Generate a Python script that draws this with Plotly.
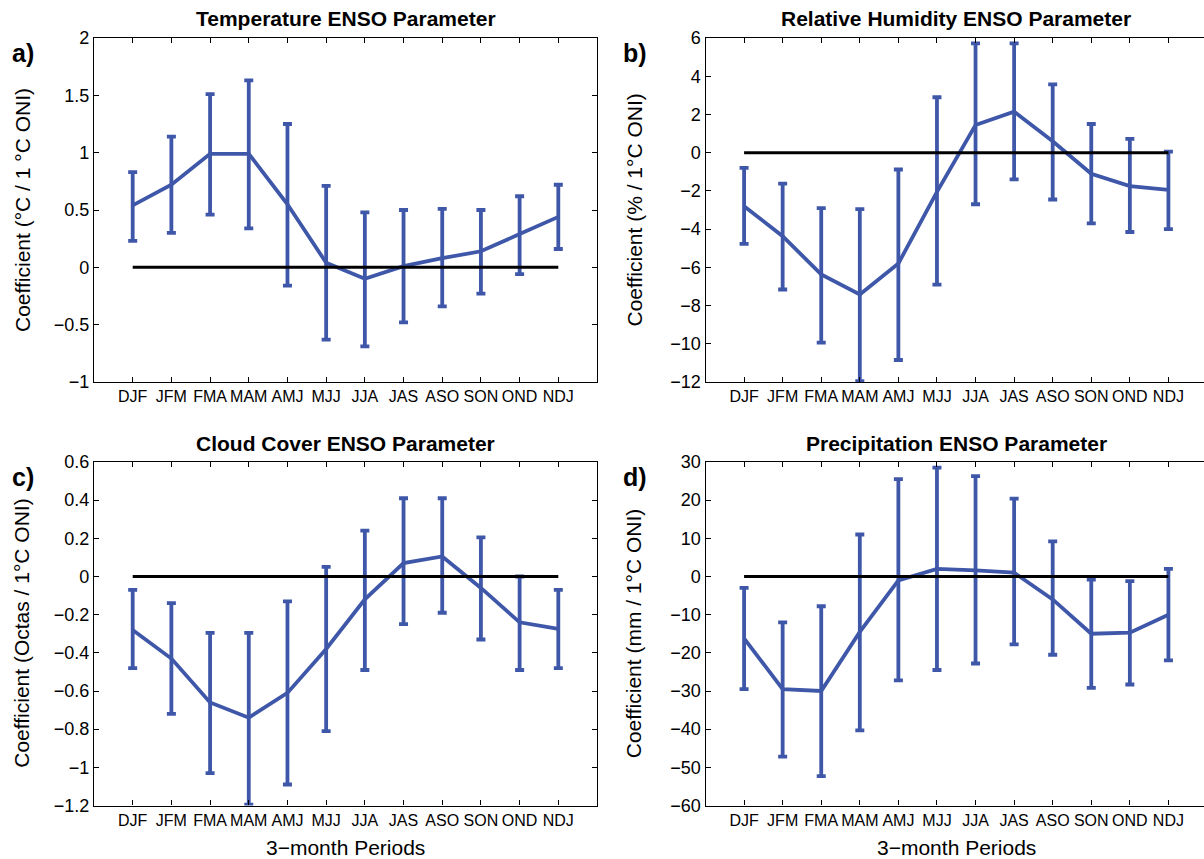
import plotly.graph_objects as go

periods = ["DJF", "JFM", "FMA", "MAM", "AMJ", "MJJ", "JJA", "JAS", "ASO", "SON", "OND", "NDJ"]

temp_mean = [0.54, 0.72, 0.99, 0.99, 0.55, 0.04, -0.10, 0.01, 0.08, 0.14, 0.29, 0.44]
temp_upper = [0.83, 1.14, 1.51, 1.63, 1.25, 0.71, 0.48, 0.50, 0.51, 0.50, 0.62, 0.72]
temp_lower = [0.23, 0.30, 0.46, 0.34, -0.16, -0.63, -0.69, -0.48, -0.34, -0.23, -0.06, 0.16]

rh_mean = [-2.80, -4.37, -6.37, -7.42, -5.80, -2.05, 1.45, 2.15, 0.60, -1.10, -1.75, -1.95]
rh_upper = [-0.80, -1.62, -2.90, -2.95, -0.88, 2.90, 5.72, 5.72, 3.57, 1.50, 0.72, 0.05]
rh_lower = [-4.77, -7.16, -9.94, -11.95, -10.85, -6.90, -2.70, -1.40, -2.45, -3.70, -4.15, -4.00]

cc_mean = [-0.28, -0.43, -0.66, -0.74, -0.61, -0.38, -0.12, 0.07, 0.105, -0.06, -0.24, -0.275]
cc_upper = [-0.07, -0.14, -0.295, -0.295, -0.13, 0.05, 0.24, 0.41, 0.41, 0.205, 0.0, -0.07]
cc_lower = [-0.48, -0.72, -1.03, -1.195, -1.09, -0.81, -0.49, -0.25, -0.19, -0.33, -0.49, -0.48]

pr_mean = [-16.2, -29.5, -30.0, -14.5, -1.0, 2.0, 1.6, 1.0, -6.0, -15.0, -14.7, -10.0]
pr_upper = [-3.0, -12.0, -7.8, 11.0, 25.5, 28.5, 26.3, 20.4, 9.2, -0.8, -1.2, 2.0]
pr_lower = [-29.5, -47.2, -52.3, -40.3, -27.2, -24.5, -22.8, -17.8, -20.5, -29.2, -28.3, -22.0]

zero_line = [0] * len(periods)

titles = ["Temperature ENSO Parameter", "Relative Humidity ENSO Parameter",
          "Cloud Cover ENSO Parameter", "Precipitation ENSO Parameter"]
ytitles = ["Coefficient (°C / 1 °C ONI)", "Coefficient (% / 1°C ONI)",
           "Coefficient (Octas / 1°C ONI)", "Coefficient (mm / 1°C ONI)"]
panel_labels = ["a)", "b)", "c)", "d)"]
xtitle = "3\u2212month Periods"

temp_ticks = [-1, -0.5, 0, 0.5, 1, 1.5, 2]
temp_ticktext = ["\u22121", "\u22120.5", "0", "0.5", "1", "1.5", "2"]
rh_ticks = [-12, -10, -8, -6, -4, -2, 0, 2, 4, 6]
rh_ticktext = ["\u221212", "\u221210", "\u22128", "\u22126", "\u22124", "\u22122", "0", "2", "4", "6"]
cc_ticks = [-1.2, -1.0, -0.8, -0.6, -0.4, -0.2, 0, 0.2, 0.4, 0.6]
cc_ticktext = ["\u22121.2", "\u22121", "\u22120.8", "\u22120.6", "\u22120.4", "\u22120.2", "0", "0.2", "0.4", "0.6"]
pr_ticks = [-60, -50, -40, -30, -20, -10, 0, 10, 20, 30]
pr_ticktext = ["\u221260", "\u221250", "\u221240", "\u221230", "\u221220", "\u221210", "0", "10", "20", "30"]

BLUE = "#3F57A8"
FONT = "Liberation Sans, Arial, Helvetica, sans-serif"
W, H = 1204, 859

xpos = [i + 1 for i in range(len(periods))]

panels = [
    (temp_mean, temp_upper, temp_lower, temp_ticks, temp_ticktext),
    (rh_mean, rh_upper, rh_lower, rh_ticks, rh_ticktext),
    (cc_mean, cc_upper, cc_lower, cc_ticks, cc_ticktext),
    (pr_mean, pr_upper, pr_lower, pr_ticks, pr_ticktext),
]

# pixel geometry of the plot boxes
left_px = [94, 705.5, 94, 705.5]
right_px = [597, 1207, 597, 1207]
top_px = [38, 38, 462, 462]
bot_px = [382, 382, 805.5, 805.5]

fig = go.Figure()
layout = dict(width=W, height=H, margin=dict(l=0, r=0, t=0, b=0, pad=0, autoexpand=False),
              paper_bgcolor="white", plot_bgcolor="white", showlegend=False,
              font=dict(family=FONT, color="black"))
annotations = []

for k, (mean, up, lo, yt, ytt) in enumerate(panels):
    ax = "" if k == 0 else str(k + 1)
    xa, ya = "x" + ax, "y" + ax
    err_up = [u - m for u, m in zip(up, mean)]
    err_lo = [m - l for m, l in zip(mean, lo)]
    fig.add_trace(go.Scatter(
        x=xpos, y=mean, mode="lines", xaxis=xa, yaxis=ya,
        line=dict(color=BLUE, width=3.8),
        error_y=dict(type="data", symmetric=False, array=err_up, arrayminus=err_lo,
                     color=BLUE, thickness=3.8, width=4.5),
        hoverinfo="skip"))
    fig.add_trace(go.Scatter(
        x=xpos, y=zero_line, mode="lines", xaxis=xa, yaxis=ya,
        line=dict(color="black", width=3), hoverinfo="skip"))

    L = left_px[k]
    R = min(right_px[k], W)
    xmax = 13 * (R - L) / (right_px[k] - L)
    clipped = right_px[k] > W
    dom_x = [L / W, R / W]
    dom_y = [1 - bot_px[k] / H, 1 - top_px[k] / H]
    xname = "xaxis" + ax
    yname = "yaxis" + ax
    layout[xname] = dict(
        domain=dom_x, range=[0, xmax], anchor=ya, automargin=False,
        tickmode="array", tickvals=xpos, ticktext=periods, tickangle=0,
        ticks="inside", ticklen=5, tickcolor="black", tickwidth=1,
        showline=True, linecolor="black", linewidth=1.2, mirror="ticks",
        showgrid=False, zeroline=False,
        tickfont=dict(family=FONT, size=16, color="black"),
        ticklabelstandoff=0)
    layout[yname] = dict(
        domain=dom_y, range=[yt[0], yt[-1]], anchor=xa, automargin=False,
        tickmode="array", tickvals=yt, ticktext=ytt,
        ticks="inside", ticklen=5, tickcolor="black", tickwidth=1,
        showline=True, linecolor="black", linewidth=1.2,
        mirror=False if clipped else "ticks",
        showgrid=False, zeroline=False,
        tickfont=dict(family=FONT, size=18, color="black"),
        ticklabelstandoff=0)

    cx = (left_px[k] + right_px[k]) / 2
    cy = (top_px[k] + bot_px[k]) / 2
    # title
    annotations.append(dict(text="<b>" + titles[k] + "</b>", x=cx / W, y=1 - (top_px[k] - 19) / H,
                            xref="paper", yref="paper", showarrow=False,
                            xanchor="center", yanchor="middle",
                            font=dict(family=FONT, size=21, color="black")))
    # y-axis title
    annotations.append(dict(text=ytitles[k], x=(left_px[k] - 72) / W, y=1 - cy / H,
                            xref="paper", yref="paper", showarrow=False, textangle=-90,
                            xanchor="center", yanchor="middle",
                            font=dict(family=FONT, size=21, color="black")))
    # panel label
    annotations.append(dict(text="<b>" + panel_labels[k] + "</b>", x=(left_px[k] - 71) / W,
                            y=1 - (top_px[k] + 15) / H,
                            xref="paper", yref="paper", showarrow=False,
                            xanchor="center", yanchor="middle",
                            font=dict(family=FONT, size=25, color="black")))
    if k >= 2:
        annotations.append(dict(text=xtitle, x=cx / W, y=1 - (bot_px[k] + 42) / H,
                                xref="paper", yref="paper", showarrow=False,
                                xanchor="center", yanchor="middle",
                                font=dict(family=FONT, size=21, color="black")))

layout["annotations"] = annotations
fig.update_layout(**layout)
fig.write_html("out.html")
